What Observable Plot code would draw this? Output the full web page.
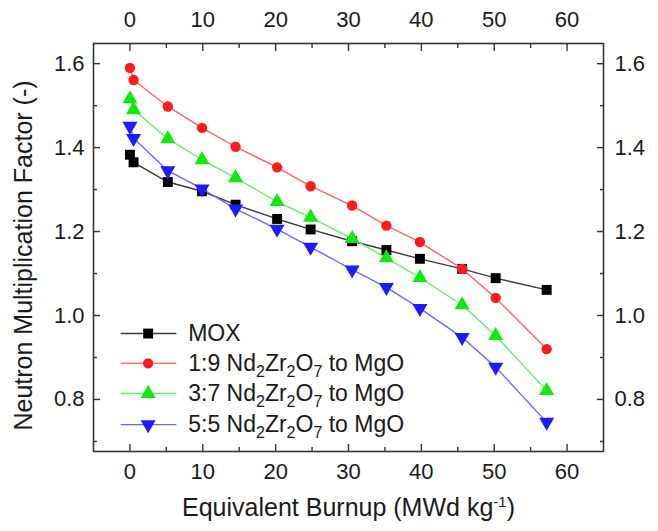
<!DOCTYPE html>
<html><head><meta charset="utf-8">
<script src="https://cdn.jsdelivr.net/npm/d3@7"></script>
<script src="https://cdn.jsdelivr.net/npm/@observablehq/plot@0.6"></script>
<style>body{margin:0;background:#fff} #chart svg{display:block}</style>
</head><body><div id="chart"></div>
<script>
const burnup = [0, 0.5, 5.2, 9.9, 14.5, 20.2, 24.8, 30.5, 35.2, 39.8, 45.6, 50.2, 57.2];
const mox  = [1.383, 1.365, 1.318, 1.296, 1.264, 1.230, 1.205, 1.177, 1.156, 1.135, 1.111, 1.089, 1.061];
const nd19 = [1.590, 1.561, 1.498, 1.447, 1.402, 1.353, 1.308, 1.262, 1.214, 1.175, 1.111, 1.042, 0.920];
const nd37 = [1.516, 1.490, 1.421, 1.371, 1.328, 1.271, 1.234, 1.183, 1.137, 1.090, 1.025, 0.952, 0.821];
const nd55 = [1.451, 1.422, 1.345, 1.302, 1.254, 1.206, 1.163, 1.109, 1.067, 1.017, 0.948, 0.877, 0.746];
const seriesNames = ["MOX", "1:9 Nd2Zr2O7 to MgO", "3:7 Nd2Zr2O7 to MgO", "5:5 Nd2Zr2O7 to MgO"];
const xTicks = [0, 10, 20, 30, 40, 50, 60];
const xMinor = [5, 15, 25, 35, 45, 55];
const yTicks = [0.8, 1.0, 1.2, 1.4, 1.6];
const yMinor = [0.7, 0.9, 1.1, 1.3, 1.5];
const xTitle = "Equivalent Burnup (MWd kg-1)";
const yTitle = "Neutron Multiplication Factor (-)";

const values = [mox, nd19, nd37, nd55];
const styles = [
  {line: "#3a3a3a", fill: "#000000", symbol: "square", r: 5.6, rotate: 0},
  {line: "#ff6464", fill: "#ff1c1c", symbol: "circle", r: 5.2, rotate: 0},
  {line: "#66f066", fill: "#10e810", symbol: "triangle", r: 5.6, rotate: 0},
  {line: "#6a6aff", fill: "#1c1cff", symbol: "triangle", r: 5.6, rotate: 180}
];
const legendY = [0.957, 0.886, 0.814, 0.740];

const FONT = "Liberation Sans, Arial, Helvetica, sans-serif";
const marks = [];
values.forEach((vals, i) => {
  const rows = burnup.map((b, j) => ({x: b, y: vals[j]}));
  const s = styles[i];
  marks.push(Plot.line(rows, {x: "x", y: "y", stroke: s.line, strokeWidth: 1.4}));
  marks.push(Plot.dot(rows, {x: "x", y: "y", fill: s.fill, symbol: s.symbol, r: s.r, rotate: s.rotate}));
  const ly = legendY[i];
  marks.push(Plot.line([{x: -1.2, y: ly}, {x: 6.3, y: ly}], {x: "x", y: "y", stroke: s.line, strokeWidth: 1.4}));
  marks.push(Plot.dot([{x: 2.5, y: ly}], {x: "x", y: "y", fill: s.fill, symbol: s.symbol, r: s.r, rotate: s.rotate}));
  marks.push(Plot.text([seriesNames[i]], {x: 8.0, y: ly, text: d => d, textAnchor: "start", fontSize: 23, fill: "#1a1a1a"}));
});

const tickColor = "#333";
const chart = Plot.plot({
  width: 658, height: 531,
  marginLeft: 93, marginRight: 55, marginTop: 43, marginBottom: 80,
  style: {fontFamily: FONT, fontSize: "22px", color: "#1a1a1a", background: "#fff"},
  x: {domain: [-5, 65], axis: null},
  y: {domain: [0.676, 1.648], axis: null},
  marks: [
    ...marks,
    Plot.frame({stroke: tickColor, strokeWidth: 1.6}),
    Plot.axisX({anchor: "bottom", ticks: xTicks, tickSize: 0, tickPadding: 12, label: null, fontSize: 22, tickFormat: d => String(d)}),
    Plot.axisX({anchor: "top", ticks: xTicks, tickSize: 0, tickPadding: 17, label: null, fontSize: 22, tickFormat: d => String(d)}),
    Plot.axisY({anchor: "left", ticks: yTicks, tickSize: 0, tickPadding: 9, label: null, fontSize: 22, tickFormat: d3.format(".1f")}),
    Plot.axisY({anchor: "right", ticks: yTicks, tickSize: 0, tickPadding: 11, label: null, fontSize: 22, tickFormat: d3.format(".1f")}),
    Plot.axisX({anchor: "bottom", ticks: xTicks, tickSize: -7, tickFormat: () => "", label: null, stroke: tickColor, strokeWidth: 1.4}),
    Plot.axisX({anchor: "top", ticks: xTicks, tickSize: -7, tickFormat: () => "", label: null, stroke: tickColor, strokeWidth: 1.4}),
    Plot.axisX({anchor: "bottom", ticks: xMinor, tickSize: -4, tickFormat: () => "", label: null, stroke: tickColor, strokeWidth: 1.4}),
    Plot.axisX({anchor: "top", ticks: xMinor, tickSize: -4, tickFormat: () => "", label: null, stroke: tickColor, strokeWidth: 1.4}),
    Plot.axisY({anchor: "left", ticks: yTicks, tickSize: -7, tickFormat: () => "", label: null, stroke: tickColor, strokeWidth: 1.4}),
    Plot.axisY({anchor: "right", ticks: yTicks, tickSize: -7, tickFormat: () => "", label: null, stroke: tickColor, strokeWidth: 1.4}),
    Plot.axisY({anchor: "left", ticks: yMinor, tickSize: -4, tickFormat: () => "", label: null, stroke: tickColor, strokeWidth: 1.4}),
    Plot.axisY({anchor: "right", ticks: yMinor, tickSize: -4, tickFormat: () => "", label: null, stroke: tickColor, strokeWidth: 1.4}),
    Plot.text([xTitle], {frameAnchor: "bottom", dy: 64, text: d => d, fontSize: 25, fill: "#1a1a1a"}),
    Plot.text([yTitle], {frameAnchor: "left", dx: -70, dy: 8, rotate: -90, textAnchor: "middle", text: d => d, fontSize: 25, fill: "#1a1a1a"})
  ]
});
document.getElementById("chart").appendChild(chart);

// sub/superscripts as real text
chart.querySelectorAll("text").forEach(t => {
  const s = t.textContent;
  const m = s.match(/^(.*)Nd2Zr2O7(.*)$/);
  if (m) {
    t.innerHTML = `${m[1]}Nd<tspan dy="6" font-size="16">2</tspan><tspan dy="-6">Zr</tspan><tspan dy="6" font-size="16">2</tspan><tspan dy="-6">O</tspan><tspan dy="6" font-size="16">7</tspan><tspan dy="-6">${m[2]}</tspan>`;
  } else if (s === xTitle) {
    t.innerHTML = `Equivalent Burnup (MWd kg<tspan dy="-9" font-size="15">-1</tspan><tspan dy="9">)</tspan>`;
  }
});
</script>
</body></html>
